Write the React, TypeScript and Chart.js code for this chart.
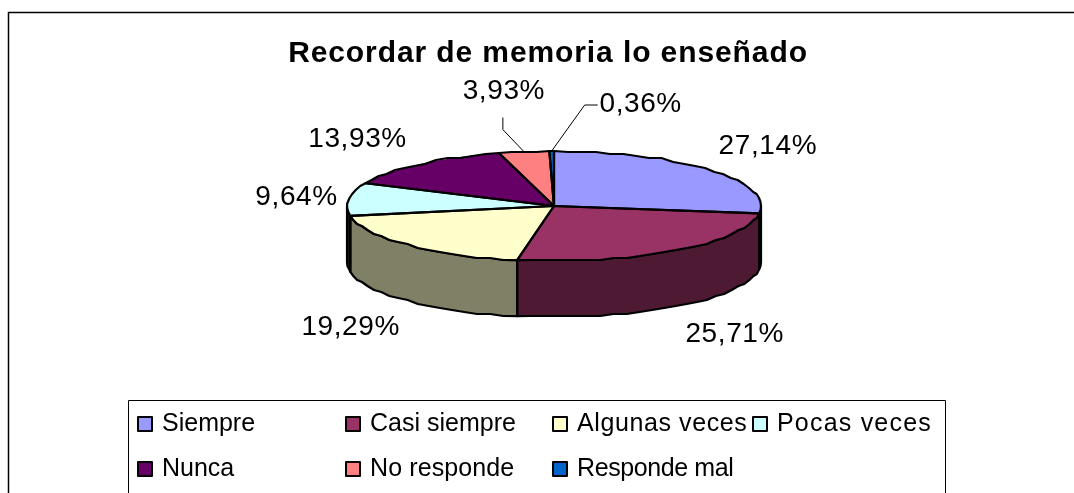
import React, { useEffect, useRef } from "react";
import { Chart, registerables } from "chart.js";

Chart.register(...registerables);

const titleText = "Recordar de memoria lo enseñado";
const categories = ["Siempre", "Casi siempre", "Algunas veces", "Pocas veces", "Nunca", "No responde", "Responde mal"];
const shares = [27.14, 25.71, 19.29, 9.64, 13.93, 3.93, 0.36];
const topColors = ["#9999FF", "#993366", "#FFFFCC", "#CCFFFF", "#660066", "#FF8080", "#0066CC"];
const wallColors = ["#111111", "#4D1933", "#808066", "#111111", "#330033", "#804040", "#003366"];

const FONT = '"Liberation Sans", Arial, sans-serif';
const PIE = { cx: 554, cy: 206, rx: 207, ry: 55, depth: 56 };
// label centre relative to the point on the rim at each slice's middle angle
const labelOffsets: [number, number][] = [
  [58, -24], [59, 84], [-57, 82], [-52, -2], [-62, -25], [-20, -60], [89, -47],
];
const leaderElbows: (([number, number][]) | null)[] = [
  null, null, null, null, null,
  [[-21, -22], [-21, -34]],
  [[33, -46], [46, -46]],
];
const legendCols = [137, 345, 552, 752];
const legendRows = [416, 461];
const legendOrder = [[0, 0], [1, 0], [2, 0], [3, 0], [0, 1], [1, 1], [2, 1]];
const legendSpacing = [0, 0, 0.6, 1.2, 0, 0.1, -0.4];

// the rim is traced the way the reference renders it: short flat steps, not a smooth curve
const STEP = Math.PI / 45;
const GRID = 2;
const rim = (a: number, dy = 0): [number, number] => [
  PIE.cx + PIE.rx * Math.cos(a),
  PIE.cy + PIE.ry * Math.sin(a) + dy,
];
const traceRim = (ctx: any, a: number, b: number, dy: number, first: boolean) => {
  const n = Math.max(1, Math.ceil(Math.abs(b - a) / STEP));
  for (let k = 0; k <= n; k++) {
    const [x, y] = rim(a + ((b - a) * k) / n, dy);
    const qy = k === 0 || k === n ? y : Math.round(y / GRID) * GRID;
    if (k === 0 && first) ctx.moveTo(x, qy);
    else ctx.lineTo(x, qy);
  }
};

const pie3d = {
  id: "pie3d",
  beforeDraw(chart: any) {
    const { ctx, width, height } = chart;
    ctx.save();
    ctx.fillStyle = "#FFFFFF";
    ctx.fillRect(0, 0, width, height);
    ctx.strokeStyle = "#000000";
    ctx.lineWidth = 1.5;
    ctx.beginPath();
    ctx.moveTo(8.5, height);
    ctx.lineTo(8.5, 12.5);
    ctx.lineTo(width, 12.5);
    ctx.stroke();
    ctx.restore();
  },
  beforeDatasetsDraw(chart: any) {
    const { ctx } = chart;
    const arcs = chart.getDatasetMeta(0).data;
    ctx.save();
    ctx.lineJoin = "round";
    ctx.lineWidth = 2.2;
    ctx.strokeStyle = "#000000";
    const TAU = Math.PI * 2;
    arcs.forEach((el: any, i: number) => {
      let s = el.startAngle;
      let e = el.endAngle;
      while (s < 0) { s += TAU; e += TAU; }
      while (s >= TAU) { s -= TAU; e -= TAU; }
      const ranges: [number, number][] = [[s, e], [s - TAU, e - TAU]];
      ranges.forEach(([a0, b0]) => {
        const a = Math.max(a0, 0);
        const b = Math.min(b0, Math.PI);
        if (b <= a) return;
        ctx.beginPath();
        traceRim(ctx, a, b, 0, true);
        traceRim(ctx, b, a, PIE.depth, false);
        ctx.closePath();
        ctx.fillStyle = wallColors[i];
        ctx.fill();
        ctx.stroke();
      });
    });
    ctx.restore();
    const el = arcs[0];
    ctx.save();
    ctx.translate(PIE.cx, PIE.cy);
    ctx.scale(PIE.rx / el.outerRadius, PIE.ry / el.outerRadius);
    ctx.translate(-el.x, -el.y);
  },
  afterDatasetsDraw(chart: any) {
    const { ctx } = chart;
    ctx.restore();
    const arcs = chart.getDatasetMeta(0).data;
    ctx.save();
    ctx.lineJoin = "round";
    ctx.lineWidth = 2.2;
    ctx.strokeStyle = "#000000";
    arcs.forEach((el: any) => {
      ctx.beginPath();
      ctx.moveTo(PIE.cx, PIE.cy);
      traceRim(ctx, el.startAngle, el.endAngle, 0, false);
      ctx.closePath();
      ctx.stroke();
    });
    // value labels and leader lines
    ctx.font = `28px ${FONT}`;
    ctx.fillStyle = "#000000";
    ctx.textAlign = "center";
    ctx.textBaseline = "middle";
    (ctx as any).letterSpacing = "0.6px";
    arcs.forEach((el: any, i: number) => {
      const mid = (el.startAngle + el.endAngle) / 2;
      const [x, y] = rim(mid);
      const [dx, dy] = labelOffsets[i];
      const elbow = leaderElbows[i];
      if (elbow) {
        ctx.lineWidth = 1;
        ctx.beginPath();
        ctx.moveTo(x, y);
        elbow.forEach(([ex, ey]) => ctx.lineTo(x + ex, y + ey));
        ctx.stroke();
      }
      const text = shares[i].toFixed(2).replace(".", ",") + "%";
      ctx.fillText(text, x + dx, y + dy);
    });
    // legend
    ctx.strokeStyle = "#000000";
    ctx.lineWidth = 1;
    ctx.beginPath();
    ctx.moveTo(128.5, chart.height);
    ctx.lineTo(128.5, 400.5);
    ctx.lineTo(945.5, 400.5);
    ctx.lineTo(945.5, chart.height);
    ctx.stroke();
    ctx.font = `25px ${FONT}`;
    ctx.textAlign = "left";
    categories.forEach((name, i) => {
      const [c, r] = legendOrder[i];
      const x = legendCols[c];
      const y = legendRows[r];
      ctx.fillStyle = topColors[i];
      ctx.fillRect(x + 1, y + 1, 14, 14);
      ctx.lineWidth = 2;
      ctx.strokeRect(x + 1, y + 1, 14, 14);
      ctx.fillStyle = "#000000";
      (ctx as any).letterSpacing = `${legendSpacing[i]}px`;
      ctx.fillText(name, x + 25, y + 8);
    });
    ctx.restore();
  },
};

// the reference's title is spaced more widely than the font's own metrics
const spacedTitle = {
  id: "spacedTitle",
  beforeDraw(chart: any) { (chart.ctx as any).letterSpacing = "0.9px"; },
  beforeDatasetsDraw(chart: any) { (chart.ctx as any).letterSpacing = "0px"; },
};

export default function App() {
  const ref = useRef<HTMLCanvasElement>(null);
  useEffect(() => {
    const chart = new Chart(ref.current as HTMLCanvasElement, {
      type: "pie",
      data: {
        labels: categories,
        datasets: [{ data: shares, backgroundColor: topColors, borderWidth: 0, clip: false } as any],
      },
      options: {
        animation: false,
        responsive: false,
        layout: { padding: { left: 22, top: 36, right: 0, bottom: 40 } },
        plugins: {
          legend: { display: false },
          tooltip: { enabled: false },
          title: {
            display: true,
            text: titleText,
            color: "#000000",
            font: { family: FONT, size: 30, weight: "bold" },
            padding: 0,
          },
        },
      },
      plugins: [pie3d, spacedTitle],
    } as any);
    return () => chart.destroy();
  }, []);
  return (
    <canvas
      ref={ref}
      width={1074}
      height={493}
      style={{ position: "absolute", left: 0, top: 0, display: "block" }}
    />
  );
}
